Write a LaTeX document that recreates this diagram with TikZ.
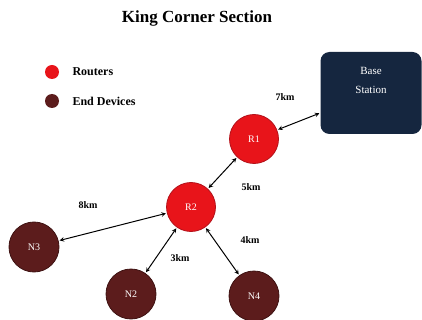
\documentclass[tikz,border=0pt]{standalone}
\usepackage{fontspec}
\setmainfont{Liberation Serif}
\definecolor{routerred}{HTML}{E8141A}
\definecolor{routeredge}{HTML}{B3121A}
\definecolor{devicebrown}{HTML}{5C1C1C}
\definecolor{deviceedge}{HTML}{3E1212}
\definecolor{stationblue}{HTML}{15263F}

\begin{document}
\begin{tikzpicture}[x=1pt, y=-1pt,
    router/.style={circle, fill=routerred, draw=routeredge, thick, minimum size=49pt, inner sep=0pt, text=white, font=\fontsize{10}{12}\selectfont},
    device/.style={circle, fill=devicebrown, draw=deviceedge, thick, minimum size=50pt, inner sep=0pt, text=white, font=\fontsize{10}{12}\selectfont},
    station/.style={rounded corners=9pt, fill=stationblue, minimum width=101pt, minimum height=82pt, text=white, align=center, font=\fontsize{11}{13}\selectfont},
    legdot/.style={circle, draw=none, minimum size=14pt, inner sep=0pt},
    dist/.style={font=\bfseries\fontsize{10}{12}\selectfont},
    link/.style={<->, >=stealth, line width=1pt, shorten <=1pt, shorten >=1pt}]

        % fixing the page to the size of the reference
        \useasboundingbox (0,0) rectangle (422,320);

        % title and legend
        \node[font=\bfseries\fontsize{17}{20}\selectfont] (title) at (197,18) {King Corner Section};
	\foreach \y/\c/\t [count=\i] in {72/routerred/Routers, 101/devicebrown/End Devices} {
		\node[legdot, fill=\c] (leg\i) at (52,\y) {};
		\node[anchor=west, font=\bfseries\fontsize{12}{14}\selectfont] (legtext\i) at (69,\y) {\t};
	}

        % base station, routers and end devices
        \node[station] (base) at (371,93) {Base\\[6pt]Station\\[12pt]\mbox{}};
        \node[router] (R1) at (254,139) {R1};
        \node[router] (R2) at (191,207) {R2};
        \node[device] (N3) at (34,247) {N3};
        \node[device] (N2) at (131,294) {N2};
        \node[device] (N4) at (254,296) {N4};

        % links between them, with the distances
        \draw[link] (R1) -- (base);
        \draw[link] (R2) -- (R1);
        \draw[link] (N3) -- (R2);
        \draw[link] (N2) -- (R2);
        \draw[link] (N4) -- (R2);

	\node[dist] (d1) at (285,97) {7km};
	\node[dist] (d2) at (251,187) {5km};
	\node[dist] (d3) at (88,205) {8km};
	\node[dist] (d4) at (180,258) {3km};
	\node[dist] (d5) at (250,240) {4km};

	\end{tikzpicture}
\end{document}
